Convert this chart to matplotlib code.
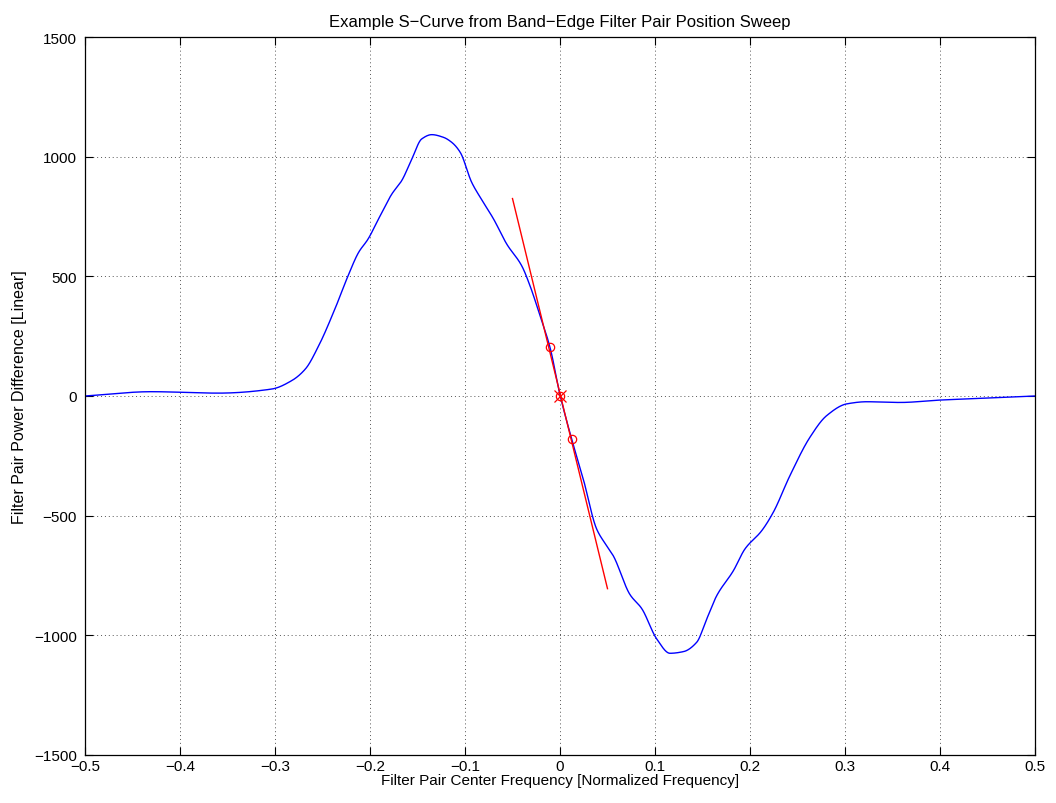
import numpy as np
import matplotlib
matplotlib.use("Agg")
import matplotlib.pyplot as plt

plt.rcParams['font.family'] = ['Liberation Sans', 'DejaVu Sans']

# S-curve data
freq = [-0.5, -0.43, -0.36, -0.3035, -0.2825, -0.268, -0.254, -0.237, -0.223, -0.212,
        -0.202, -0.191, -0.177, -0.1666, -0.156, -0.1456, -0.135, -0.1228, -0.114, -0.105,
        -0.093, -0.084, -0.070, -0.0561, -0.0403, -0.0316, -0.021, -0.0105, 0.0, 0.0123,
        0.0245, 0.0386, 0.049, 0.056, 0.0737, 0.086, 0.1018, 0.1158, 0.13, 0.1439,
        0.1544, 0.165, 0.1825, 0.1947, 0.2123, 0.2245, 0.242, 0.263, 0.2807, 0.3018,
        0.3228, 0.358, 0.40, 0.442, 0.5]
power = [0, 18, 12, 29, 64, 113, 210, 363, 503, 600,
         656, 740, 844, 900, 990, 1074, 1092, 1081, 1060, 1018,
         893, 830, 740, 635, 544, 461, 335, 203, 5, -180,
         -347, -556, -625, -667, -830, -888, -1015, -1075, -1068, -1029,
         -932, -834, -730, -639, -563, -486, -333, -173, -82, -33,
         -24, -27, -17, -10, 0]

# Linear fit line around the zero crossing
fit_x = [-0.05, 0.05]
fit_y = [825, -805]

# Sample points used for the fit
pts_x = [-0.0105, 0.0123]
pts_y = [203, -180]
center_x = [0.0]
center_y = [0.0]

xticklabels = ['\u22120.5', '\u22120.4', '\u22120.3', '\u22120.2', '\u22120.1', '0',
               '0.1', '0.2', '0.3', '0.4', '0.5']
yticklabels = ['\u22121500', '\u22121000', '\u2212500', '0', '500', '1000', '1500']


def pchip(x, y, xq):
    x = np.asarray(x, float)
    y = np.asarray(y, float)
    h = np.diff(x)
    d = np.diff(y) / h
    n = len(x)
    m = np.zeros(n)
    for k in range(1, n - 1):
        if d[k - 1] * d[k] > 0:
            w1 = 2 * h[k] + h[k - 1]
            w2 = h[k] + 2 * h[k - 1]
            m[k] = (w1 + w2) / (w1 / d[k - 1] + w2 / d[k])
    m[0] = d[0]
    m[-1] = d[-1]
    idx = np.clip(np.searchsorted(x, xq) - 1, 0, n - 2)
    t = (xq - x[idx]) / h[idx]
    h00 = 2 * t**3 - 3 * t**2 + 1
    h10 = t**3 - 2 * t**2 + t
    h01 = -2 * t**3 + 3 * t**2
    h11 = t**3 - t**2
    return (h00 * y[idx] + h10 * h[idx] * m[idx] + h01 * y[idx + 1]
            + h11 * h[idx] * m[idx + 1])


fig = plt.figure(figsize=(10.56, 8.04), dpi=100)
ax = fig.add_axes([85/1056, 48/804, 950/1056, 718/804])

xf = np.linspace(-0.5, 0.5, 3001)
yf = pchip(freq, power, xf)

ax.plot(xf, yf, color='#0000ff', lw=1.0)
ax.plot(fit_x, fit_y, color='#ff0000', lw=1.0)
ax.plot(pts_x, pts_y, 'o', color='#ff0000', mfc='none', ms=6, mew=0.9)
ax.plot(center_x, center_y, 'o', color='#ff0000', mfc='none', ms=6, mew=0.9)
ax.plot(center_x, center_y, 'x', color='#ff0000', ms=9, mew=0.9)

ax.set_xlim(-0.5, 0.5)
ax.set_ylim(-1500, 1500)
ax.set_xticks(np.linspace(-0.5, 0.5, len(xticklabels)))
ax.set_xticklabels(xticklabels)
ax.set_yticks(np.linspace(-1500, 1500, len(yticklabels)))
ax.set_yticklabels(yticklabels)

ax.grid(True, linestyle=(0, (1, 3)), color='#555555', lw=0.7)
ax.tick_params(direction='in', top=True, right=True, length=6, width=0.8,
               labelsize=11)
ax.tick_params(axis='y', pad=6)
ax.tick_params(axis='x', pad=3)
for s in ax.spines.values():
    s.set_linewidth(0.9)

ax.set_title('Example S\u2212Curve from Band\u2212Edge Filter Pair Position Sweep',
             fontsize=12, pad=8)
ax.set_xlabel('Filter Pair Center Frequency [Normalized Frequency]', fontsize=11, labelpad=0)
ax.set_ylabel('Filter Pair Power Difference [Linear]', fontsize=11.5, labelpad=5)

fig.savefig('out.png', dpi=100)
